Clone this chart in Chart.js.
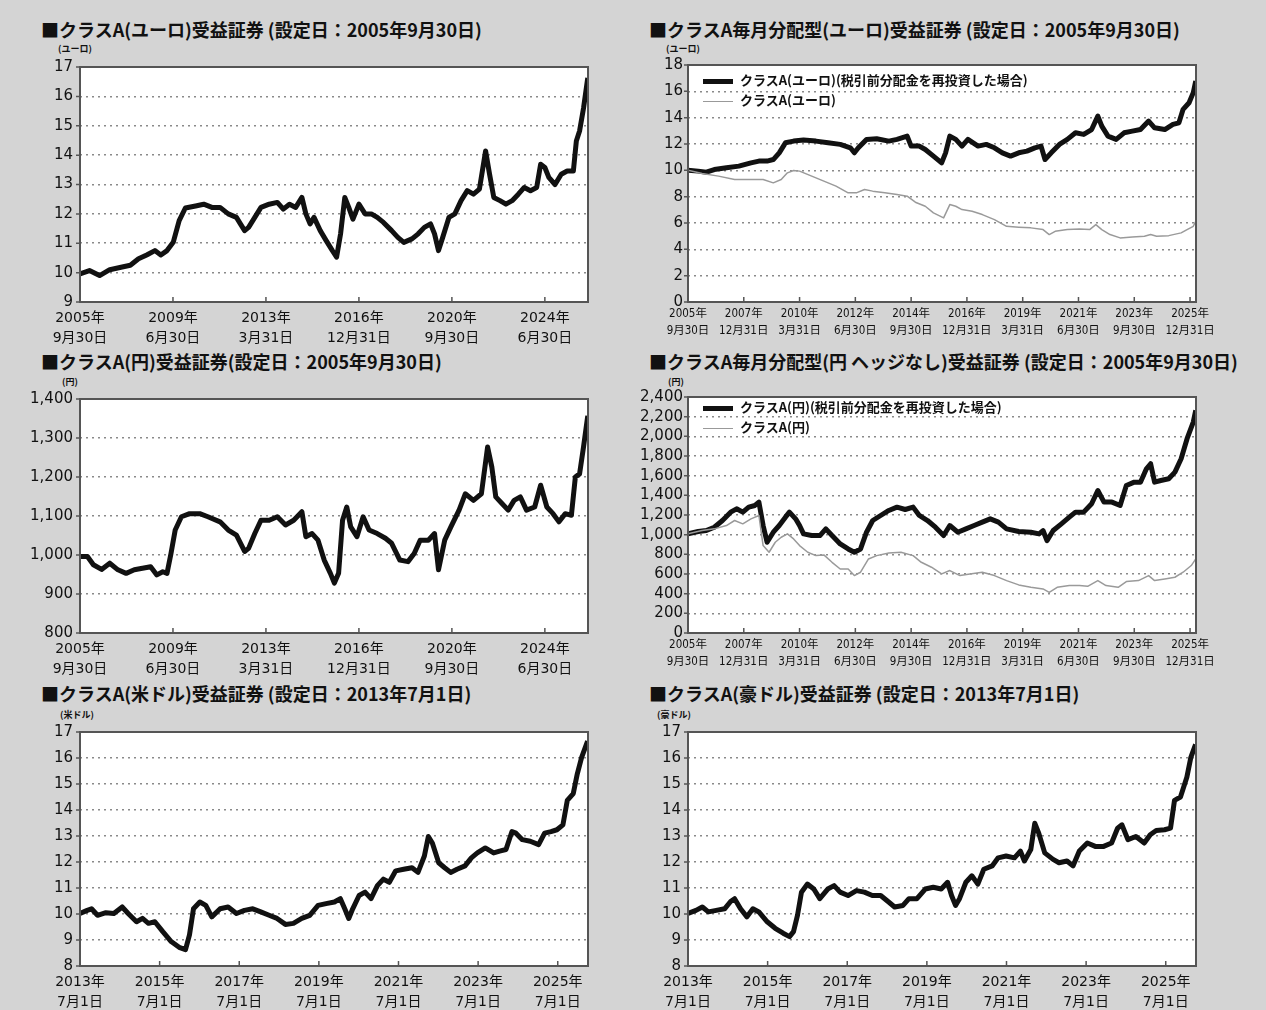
<!DOCTYPE html>
<html lang="ja">
<head>
<meta charset="utf-8">
<title>クラスA 基準価額の推移</title>
<script src="https://cdn.jsdelivr.net/npm/chart.js@4.4.1/dist/chart.umd.min.js"></script>
<style>
  body { margin: 0; background: #fff; }
  #page { position: relative; width: 1266px; height: 1010px; background: #d4d4d4; overflow: hidden;
          font-family: "Noto Sans CJK JP", sans-serif; color: #111; }
  .ttl { position: absolute; font-size: 18px; font-weight: 700; white-space: nowrap; line-height: 1; }
  .unit { position: absolute; font-size: 9px; font-weight: 700; white-space: nowrap; line-height: 1; }
  .box { position: absolute; }
  .lg { position: absolute; font-size: 13px; font-weight: 700; white-space: nowrap; line-height: 20px; }
  .lg i { display: inline-block; width: 30px; vertical-align: middle; margin-right: 7px; }
</style>
</head>
<body>
<div id="page">
  <div class="ttl" style="left:41px;top:20px">■クラスA(ユーロ)受益証券 (設定日：2005年9月30日)</div>
  <div class="ttl" style="left:649px;top:20px">■クラスA毎月分配型(ユーロ)受益証券 (設定日：2005年9月30日)</div>
  <div class="ttl" style="left:41px;top:352px">■クラスA(円)受益証券(設定日：2005年9月30日)</div>
  <div class="ttl" style="left:649px;top:352px">■クラスA毎月分配型(円 ヘッジなし)受益証券 (設定日：2005年9月30日)</div>
  <div class="ttl" style="left:41px;top:684px">■クラスA(米ドル)受益証券 (設定日：2013年7月1日)</div>
  <div class="ttl" style="left:649px;top:684px">■クラスA(豪ドル)受益証券 (設定日：2013年7月1日)</div>

  <div class="unit" style="left:58px;top:44px">(ユーロ)</div>
  <div class="unit" style="left:666px;top:44px">(ユーロ)</div>
  <div class="unit" style="left:62px;top:377px">(円)</div>
  <div class="unit" style="left:668px;top:377px">(円)</div>
  <div class="unit" style="left:60px;top:710px">(米ドル)</div>
  <div class="unit" style="left:657px;top:710px">(豪ドル)</div>

  <div class="box" style="left:20px;top:51px"><canvas id="c1" width="600" height="299"></canvas></div>
  <div class="box" style="left:628px;top:51px"><canvas id="c2" width="620" height="299"></canvas></div>
  <div class="box" style="left:20px;top:383px"><canvas id="c3" width="600" height="298"></canvas></div>
  <div class="box" style="left:628px;top:383px"><canvas id="c4" width="620" height="298"></canvas></div>
  <div class="box" style="left:20px;top:716px"><canvas id="c5" width="600" height="298"></canvas></div>
  <div class="box" style="left:628px;top:716px"><canvas id="c6" width="620" height="298"></canvas></div>

  <div class="lg" style="left:703px;top:70px">
    <div><i style="border-top:5px solid #111"></i>クラスA(ユーロ)(税引前分配金を再投資した場合)</div>
    <div><i style="border-top:1.5px solid #999"></i>クラスA(ユーロ)</div>
  </div>
  <div class="lg" style="left:703px;top:397px">
    <div><i style="border-top:5px solid #111"></i>クラスA(円)(税引前分配金を再投資した場合)</div>
    <div><i style="border-top:1.5px solid #999"></i>クラスA(円)</div>
  </div>
</div>

<script>
// x ticks (decimal years) and their two-line labels
const ticksLong = [2005.75, 2009.5, 2013.25, 2017.0, 2020.75, 2024.5];
const labelsLong = [["2005年", "9月30日"], ["2009年", "6月30日"], ["2013年", "3月31日"],
  ["2016年", "12月31日"], ["2020年", "9月30日"], ["2024年", "6月30日"]];
const ticksDist = [2005.75, 2008.0, 2010.25, 2012.5, 2014.75, 2017.0, 2019.25, 2021.5, 2023.75, 2026.0];
const labelsDist = [["2005年", "9月30日"], ["2007年", "12月31日"], ["2010年", "3月31日"], ["2012年", "6月30日"],
  ["2014年", "9月30日"], ["2016年", "12月31日"], ["2019年", "3月31日"], ["2021年", "6月30日"],
  ["2023年", "9月30日"], ["2025年", "12月31日"]];
const ticksShort = [2013.5, 2015.5, 2017.5, 2019.5, 2021.5, 2023.5, 2025.5];
const labelsShort = [["2013年", "7月1日"], ["2015年", "7月1日"], ["2017年", "7月1日"], ["2019年", "7月1日"],
  ["2021年", "7月1日"], ["2023年", "7月1日"], ["2025年", "7月1日"]];

// クラスA(ユーロ)
const datesEur = [2005.75, 2006.13, 2006.54, 2006.95, 2007.45, 2007.78, 2008.11, 2008.44, 2008.77, 2009.01,
  2009.26, 2009.51, 2009.75, 2010.00, 2010.41, 2010.74, 2011.07, 2011.40, 2011.73, 2012.06,
  2012.22, 2012.39, 2012.55, 2012.80, 2013.05, 2013.38, 2013.71, 2013.95, 2014.20, 2014.45,
  2014.70, 2014.86, 2015.03, 2015.19, 2015.44, 2015.68, 2015.93, 2016.10, 2016.26, 2016.43,
  2016.59, 2016.76, 2017.00, 2017.25, 2017.50, 2017.74, 2017.99, 2018.32, 2018.57, 2018.81,
  2019.14, 2019.39, 2019.64, 2019.89, 2020.05, 2020.21, 2020.38, 2020.63, 2020.87, 2021.12,
  2021.37, 2021.62, 2021.86, 2022.11, 2022.27, 2022.44, 2022.69, 2022.93, 2023.18, 2023.43,
  2023.67, 2023.92, 2024.17, 2024.33, 2024.50, 2024.66, 2024.91, 2025.16, 2025.40, 2025.65,
  2025.77, 2025.90, 2026.06, 2026.23];
const navEur = [9.96, 10.07, 9.90, 10.10, 10.19, 10.25, 10.47, 10.60, 10.75, 10.60,
  10.75, 11.03, 11.77, 12.20, 12.27, 12.33, 12.22, 12.22, 12.00, 11.88,
  11.66, 11.43, 11.54, 11.88, 12.22, 12.33, 12.39, 12.16, 12.33, 12.22,
  12.56, 12.00, 11.66, 11.88, 11.43, 11.09, 10.75, 10.53, 11.32, 12.56,
  12.22, 11.82, 12.33, 12.00, 12.00, 11.88, 11.71, 11.43, 11.20, 11.03,
  11.15, 11.32, 11.54, 11.66, 11.32, 10.75, 11.20, 11.88, 12.00, 12.45,
  12.79, 12.67, 12.84, 14.14, 13.35, 12.56, 12.45, 12.33, 12.45, 12.67,
  12.90, 12.79, 12.90, 13.69, 13.58, 13.24, 13.00, 13.35, 13.46, 13.46,
  14.48, 14.82, 15.60, 16.63];

// クラスA毎月分配型(ユーロ)
const datesEurReinv = [2005.75, 2006.16, 2006.49, 2006.81, 2007.30, 2007.80, 2008.29, 2008.61, 2008.94, 2009.19,
  2009.43, 2009.68, 2010.01, 2010.41, 2010.91, 2011.40, 2011.89, 2012.30, 2012.46, 2012.62,
  2012.95, 2013.36, 2013.85, 2014.18, 2014.59, 2014.75, 2015.08, 2015.32, 2015.65, 2015.98,
  2016.14, 2016.31, 2016.55, 2016.80, 2017.04, 2017.45, 2017.78, 2018.11, 2018.43, 2018.76,
  2019.09, 2019.42, 2019.74, 2019.99, 2020.15, 2020.40, 2020.73, 2021.05, 2021.38, 2021.71,
  2022.03, 2022.28, 2022.44, 2022.69, 2023.02, 2023.34, 2023.67, 2024.00, 2024.33, 2024.57,
  2024.98, 2025.31, 2025.55, 2025.72, 2025.96, 2026.13, 2026.23];
const navEurReinv = [10.0, 9.94, 9.86, 10.06, 10.19, 10.32, 10.57, 10.7, 10.7, 10.82,
  11.33, 12.09, 12.22, 12.3, 12.22, 12.09, 11.97, 11.71, 11.33, 11.71,
  12.35, 12.4, 12.22, 12.35, 12.6, 11.84, 11.84, 11.58, 11.08, 10.57,
  11.33, 12.6, 12.35, 11.84, 12.35, 11.84, 11.97, 11.71, 11.33, 11.08,
  11.33, 11.46, 11.71, 11.84, 10.82, 11.33, 11.97, 12.35, 12.85, 12.73,
  13.1, 14.12, 13.36, 12.6, 12.35, 12.85, 12.98, 13.1, 13.74, 13.23,
  13.1, 13.49, 13.61, 14.63, 15.13, 15.9, 16.78];
const datesEurDist = [2005.75, 2006.32, 2006.98, 2007.63, 2008.29, 2008.78, 2009.19, 2009.51, 2009.76, 2010.01,
  2010.25, 2010.74, 2011.23, 2011.72, 2012.21, 2012.54, 2012.87, 2013.20, 2013.69, 2014.18,
  2014.59, 2014.92, 2015.32, 2015.65, 2016.06, 2016.31, 2016.55, 2016.80, 2017.21, 2017.62,
  2018.11, 2018.60, 2019.09, 2019.58, 2020.07, 2020.32, 2020.56, 2021.05, 2021.54, 2021.95,
  2022.20, 2022.44, 2022.77, 2023.18, 2023.67, 2024.16, 2024.41, 2024.65, 2025.14, 2025.64,
  2025.88, 2026.13, 2026.23];
const navEurDist = [10.0, 9.76, 9.56, 9.3, 9.3, 9.3, 9.05, 9.3, 9.81, 9.99,
  9.94, 9.56, 9.18, 8.8, 8.29, 8.29, 8.54, 8.42, 8.29, 8.16,
  8.04, 7.58, 7.27, 6.77, 6.39, 7.4, 7.27, 7.02, 6.89, 6.64,
  6.26, 5.75, 5.68, 5.63, 5.5, 5.12, 5.37, 5.5, 5.55, 5.5,
  5.88, 5.5, 5.12, 4.87, 4.94, 5.0, 5.12, 5.0, 5.04, 5.25,
  5.5, 5.75, 6.13];

// クラスA(円)
const datesJpy = [2005.75, 2006.05, 2006.29, 2006.62, 2006.95, 2007.28, 2007.61, 2007.94, 2008.27, 2008.60,
  2008.85, 2009.09, 2009.26, 2009.42, 2009.59, 2009.84, 2010.17, 2010.58, 2010.91, 2011.40,
  2011.73, 2012.06, 2012.39, 2012.55, 2012.80, 2013.05, 2013.38, 2013.71, 2014.04, 2014.37,
  2014.70, 2014.86, 2015.11, 2015.35, 2015.60, 2015.85, 2016.01, 2016.18, 2016.34, 2016.51,
  2016.67, 2016.92, 2017.17, 2017.41, 2017.74, 2018.07, 2018.32, 2018.65, 2018.98, 2019.23,
  2019.47, 2019.80, 2020.05, 2020.21, 2020.46, 2020.71, 2021.04, 2021.29, 2021.62, 2021.94,
  2022.19, 2022.36, 2022.52, 2022.77, 2023.02, 2023.26, 2023.51, 2023.76, 2024.09, 2024.33,
  2024.58, 2024.83, 2025.07, 2025.32, 2025.57, 2025.73, 2025.90, 2026.06, 2026.23];
const navJpy = [996, 996, 975, 963, 979, 962, 953, 962, 966, 970,
  949, 957, 953, 1004, 1064, 1098, 1106, 1106, 1098, 1085,
  1064, 1051, 1009, 1017, 1055, 1089, 1089, 1098, 1077, 1089,
  1111, 1047, 1055, 1038, 987, 953, 928, 953, 1089, 1123,
  1072, 1047, 1098, 1064, 1055, 1043, 1030, 987, 983, 1004,
  1038, 1038, 1055, 962, 1038, 1072, 1115, 1157, 1140, 1157,
  1277, 1226, 1149, 1132, 1115, 1140, 1149, 1115, 1123, 1179,
  1123, 1106, 1085, 1106, 1102, 1200, 1208, 1277, 1357];

// クラスA毎月分配型(円 ヘッジなし)
const datesJpyReinv = [2005.75, 2006.16, 2006.49, 2006.81, 2007.14, 2007.47, 2007.71, 2007.96, 2008.20, 2008.45,
  2008.61, 2008.78, 2008.94, 2009.19, 2009.43, 2009.68, 2009.84, 2010.09, 2010.25, 2010.41,
  2010.74, 2011.07, 2011.31, 2011.56, 2011.89, 2012.21, 2012.46, 2012.71, 2012.95, 2013.20,
  2013.52, 2013.85, 2014.18, 2014.51, 2014.83, 2015.08, 2015.41, 2015.73, 2016.06, 2016.31,
  2016.63, 2016.96, 2017.29, 2017.62, 2017.94, 2018.27, 2018.60, 2019.09, 2019.58, 2019.91,
  2020.07, 2020.23, 2020.48, 2020.81, 2021.13, 2021.38, 2021.71, 2022.03, 2022.28, 2022.53,
  2022.85, 2023.18, 2023.43, 2023.75, 2024.00, 2024.24, 2024.41, 2024.57, 2024.82, 2025.14,
  2025.39, 2025.64, 2025.88, 2026.13, 2026.23];
const navJpyReinv = [1008, 1032, 1042, 1076, 1144, 1229, 1263, 1229, 1280, 1297,
  1331, 1093, 923, 1025, 1093, 1178, 1229, 1161, 1093, 1008,
  991, 991, 1059, 991, 906, 855, 821, 855, 1025, 1144,
  1195, 1246, 1280, 1256, 1280, 1195, 1144, 1076, 991, 1093,
  1025, 1059, 1093, 1127, 1161, 1127, 1059, 1032, 1025, 1008,
  1042, 940, 1042, 1110, 1178, 1229, 1229, 1314, 1449, 1331,
  1331, 1297, 1500, 1534, 1534, 1670, 1721, 1534, 1551, 1568,
  1636, 1772, 1976, 2145, 2264];
const datesJpyDist = [2005.75, 2006.32, 2006.81, 2007.30, 2007.63, 2007.96, 2008.29, 2008.61, 2008.78, 2009.02,
  2009.27, 2009.51, 2009.76, 2010.01, 2010.25, 2010.58, 2010.91, 2011.23, 2011.56, 2011.89,
  2012.21, 2012.46, 2012.71, 2013.03, 2013.36, 2013.85, 2014.34, 2014.83, 2015.16, 2015.57,
  2015.98, 2016.31, 2016.72, 2017.12, 2017.62, 2018.11, 2018.60, 2019.09, 2019.58, 2020.07,
  2020.32, 2020.64, 2021.13, 2021.54, 2021.87, 2022.28, 2022.61, 2023.10, 2023.43, 2023.92,
  2024.33, 2024.57, 2024.98, 2025.39, 2025.72, 2026.05, 2026.23];
const navJpyDist = [1008, 1042, 1059, 1093, 1144, 1110, 1161, 1195, 889, 821,
  923, 974, 1008, 957, 889, 821, 787, 794, 719, 651,
  651, 584, 618, 753, 787, 814, 821, 787, 719, 669,
  601, 635, 584, 601, 618, 584, 533, 489, 465, 448,
  414, 465, 482, 482, 475, 533, 482, 465, 523, 533,
  584, 533, 550, 567, 618, 686, 754];

// クラスA(米ドル)
const datesUsd = [2013.50, 2013.68, 2013.79, 2013.94, 2014.15, 2014.35, 2014.56, 2014.71, 2014.92, 2015.07,
  2015.22, 2015.38, 2015.58, 2015.79, 2015.99, 2016.15, 2016.25, 2016.35, 2016.51, 2016.66,
  2016.81, 2017.02, 2017.22, 2017.43, 2017.63, 2017.84, 2018.04, 2018.25, 2018.45, 2018.66,
  2018.86, 2019.07, 2019.27, 2019.48, 2019.68, 2019.89, 2020.04, 2020.15, 2020.25, 2020.35,
  2020.51, 2020.66, 2020.81, 2020.97, 2021.12, 2021.27, 2021.43, 2021.63, 2021.84, 2021.99,
  2022.15, 2022.25, 2022.35, 2022.51, 2022.66, 2022.81, 2022.97, 2023.17, 2023.33, 2023.48,
  2023.68, 2023.89, 2024.04, 2024.20, 2024.35, 2024.45, 2024.61, 2024.81, 2025.02, 2025.17,
  2025.33, 2025.48, 2025.63, 2025.74, 2025.89, 2025.99, 2026.10, 2026.25];
const navUsd = [10.02, 10.14, 10.2, 9.95, 10.05, 10.02, 10.27, 10.02, 9.7, 9.83,
  9.64, 9.7, 9.32, 8.94, 8.72, 8.63, 9.2, 10.2, 10.46, 10.33,
  9.89, 10.2, 10.27, 10.02, 10.14, 10.2, 10.08, 9.95, 9.83, 9.6,
  9.64, 9.83, 9.95, 10.33, 10.4, 10.46, 10.59, 10.2, 9.83, 10.2,
  10.71, 10.84, 10.59, 11.09, 11.34, 11.22, 11.66, 11.72, 11.78, 11.6,
  12.23, 12.98, 12.73, 11.97, 11.78, 11.6, 11.72, 11.85, 12.16, 12.35,
  12.54, 12.35, 12.42, 12.48, 13.17, 13.11, 12.86, 12.8, 12.67, 13.11,
  13.17, 13.24, 13.43, 14.37, 14.63, 15.38, 16.02, 16.65];

// クラスA(豪ドル)
const datesAud = [2013.50, 2013.70, 2013.86, 2014.01, 2014.21, 2014.42, 2014.57, 2014.67, 2014.82, 2014.98,
  2015.13, 2015.28, 2015.49, 2015.69, 2015.89, 2016.05, 2016.15, 2016.25, 2016.35, 2016.50,
  2016.66, 2016.81, 2017.01, 2017.17, 2017.32, 2017.52, 2017.73, 2017.93, 2018.13, 2018.34,
  2018.54, 2018.69, 2018.90, 2019.05, 2019.25, 2019.46, 2019.66, 2019.86, 2020.02, 2020.12,
  2020.22, 2020.32, 2020.48, 2020.63, 2020.78, 2020.93, 2021.14, 2021.29, 2021.49, 2021.70,
  2021.85, 2021.95, 2022.11, 2022.21, 2022.31, 2022.46, 2022.67, 2022.82, 2023.02, 2023.17,
  2023.33, 2023.53, 2023.73, 2023.94, 2024.14, 2024.29, 2024.40, 2024.55, 2024.75, 2024.96,
  2025.11, 2025.26, 2025.47, 2025.62, 2025.72, 2025.87, 2026.03, 2026.13, 2026.25];
const navAud = [10.02, 10.14, 10.27, 10.08, 10.14, 10.2, 10.48, 10.59, 10.2, 9.89,
  10.2, 10.08, 9.7, 9.45, 9.26, 9.13, 9.32, 9.95, 10.84, 11.15,
  10.96, 10.59, 10.96, 11.09, 10.84, 10.71, 10.9, 10.84, 10.71, 10.71,
  10.46, 10.27, 10.33, 10.59, 10.59, 10.96, 11.03, 10.96, 11.22, 10.71,
  10.33, 10.59, 11.22, 11.47, 11.15, 11.72, 11.85, 12.16, 12.23, 12.16,
  12.42, 12.04, 12.48, 13.49, 13.11, 12.35, 12.1, 11.97, 12.04, 11.85,
  12.42, 12.73, 12.6, 12.6, 12.73, 13.3, 13.43, 12.86, 12.98, 12.73,
  13.05, 13.21, 13.24, 13.3, 14.37, 14.5, 15.26, 16.02, 16.52];

const NUM_FONT = '"DejaVu Sans", "Noto Sans CJK JP", sans-serif';
const NARROW_FONT = '"DejaVu Sans Condensed", "Liberation Sans Narrow", "Noto Sans CJK JP", sans-serif';

// white plot area, frame, inward x ticks, outward y ticks
const framePlugin = {
  id: "frame",
  beforeDraw(chart) {
    const { ctx, chartArea: a } = chart;
    ctx.save();
    ctx.fillStyle = "#fff";
    ctx.fillRect(a.left, a.top, a.right - a.left, a.bottom - a.top);
    ctx.restore();
  },
  afterDatasetsDraw(chart) {
    const { ctx, chartArea: a, scales } = chart;
    ctx.save();
    ctx.strokeStyle = "#555";
    ctx.lineWidth = 2;
    ctx.strokeRect(a.left, a.top, a.right - a.left, a.bottom - a.top);
    ctx.lineWidth = 1.5;
    ctx.beginPath();
    scales.x.ticks.forEach((t) => {
      const px = scales.x.getPixelForValue(t.value);
      ctx.moveTo(px, a.bottom);
      ctx.lineTo(px, a.bottom - 5);
    });
    scales.y.ticks.forEach((t) => {
      const py = scales.y.getPixelForValue(t.value);
      ctx.moveTo(a.left - 4, py);
      ctx.lineTo(a.left, py);
    });
    ctx.stroke();
    ctx.restore();
  },
};

const toPoints = (dates, vals) => dates.map((d, i) => ({ x: d, y: vals[i] }));

const pintarGrafica = (id, cfg) => {
  const datasets = cfg.series.map((s) => ({
    data: toPoints(s.dates, s.vals),
    borderColor: s.color,
    borderWidth: s.width,
    pointRadius: 0,
    tension: 0,
    borderJoinStyle: "round",
  }));
  // thin grey line underneath, thick black line on top
  datasets.reverse();

  new Chart(document.getElementById(id), {
    type: "line",
    data: { datasets },
    plugins: [framePlugin],
    options: {
      responsive: false,
      animation: false,
      devicePixelRatio: 1,
      layout: { padding: { top: 14, right: cfg.padRight, bottom: 0, left: 0 } },
      plugins: { legend: { display: false }, tooltip: { enabled: false } },
      scales: {
        x: {
          type: "linear",
          min: cfg.xMin,
          max: cfg.xMax,
          afterBuildTicks: (scale) => {
            scale.ticks = cfg.ticks.map((v) => ({ value: v }));
          },
          afterFit: (scale) => {
            scale.height = 48;
          },
          grid: { display: false, drawTicks: false },
          border: { display: false },
          ticks: {
            autoSkip: false,
            maxRotation: 0,
            padding: cfg.narrow ? 4 : 7,
            color: "#111",
            font: { family: cfg.narrow ? NARROW_FONT : NUM_FONT, size: cfg.narrow ? 11.5 : 14, lineHeight: cfg.narrow ? 1.45 : 1.4 },
            callback: (v, i) => cfg.labels[i],
          },
        },
        y: {
          min: cfg.yMin,
          max: cfg.yMax,
          afterFit: (scale) => {
            scale.width = 60;
          },
          grid: { color: "#8a8a8a", lineWidth: 1.6, drawTicks: false },
          border: { display: false, dash: [2, 4] },
          ticks: {
            stepSize: cfg.yStep,
            autoSkip: false,
            padding: cfg.narrow ? 5 : 7,
            color: "#111",
            font: { family: NUM_FONT, size: 15 },
            callback: (v) => v.toLocaleString("en-US"),
          },
        },
      },
    },
  });
};

const BLACK = "#111";
const GREY = "#9a9a9a";

pintarGrafica("c1", {
  xMin: 2005.75, xMax: 2026.24, ticks: ticksLong, labels: labelsLong, padRight: 32,
  yMin: 9, yMax: 17, yStep: 1,
  series: [{ dates: datesEur, vals: navEur, color: BLACK, width: 5 }],
});
pintarGrafica("c2", {
  xMin: 2005.75, xMax: 2026.24, ticks: ticksDist, labels: labelsDist, padRight: 52, narrow: true,
  yMin: 0, yMax: 18, yStep: 2,
  series: [
    { dates: datesEurReinv, vals: navEurReinv, color: BLACK, width: 5 },
    { dates: datesEurDist, vals: navEurDist, color: GREY, width: 1.5 },
  ],
});
pintarGrafica("c3", {
  xMin: 2005.75, xMax: 2026.24, ticks: ticksLong, labels: labelsLong, padRight: 32,
  yMin: 800, yMax: 1400, yStep: 100,
  series: [{ dates: datesJpy, vals: navJpy, color: BLACK, width: 5 }],
});
pintarGrafica("c4", {
  xMin: 2005.75, xMax: 2026.24, ticks: ticksDist, labels: labelsDist, padRight: 52, narrow: true,
  yMin: 0, yMax: 2400, yStep: 200,
  series: [
    { dates: datesJpyReinv, vals: navJpyReinv, color: BLACK, width: 5 },
    { dates: datesJpyDist, vals: navJpyDist, color: GREY, width: 1.5 },
  ],
});
pintarGrafica("c5", {
  xMin: 2013.5, xMax: 2026.26, ticks: ticksShort, labels: labelsShort, padRight: 32,
  yMin: 8, yMax: 17, yStep: 1,
  series: [{ dates: datesUsd, vals: navUsd, color: BLACK, width: 5 }],
});
pintarGrafica("c6", {
  xMin: 2013.5, xMax: 2026.26, ticks: ticksShort, labels: labelsShort, padRight: 52,
  yMin: 8, yMax: 17, yStep: 1,
  series: [{ dates: datesAud, vals: navAud, color: BLACK, width: 5 }],
});
</script>
</body>
</html>
